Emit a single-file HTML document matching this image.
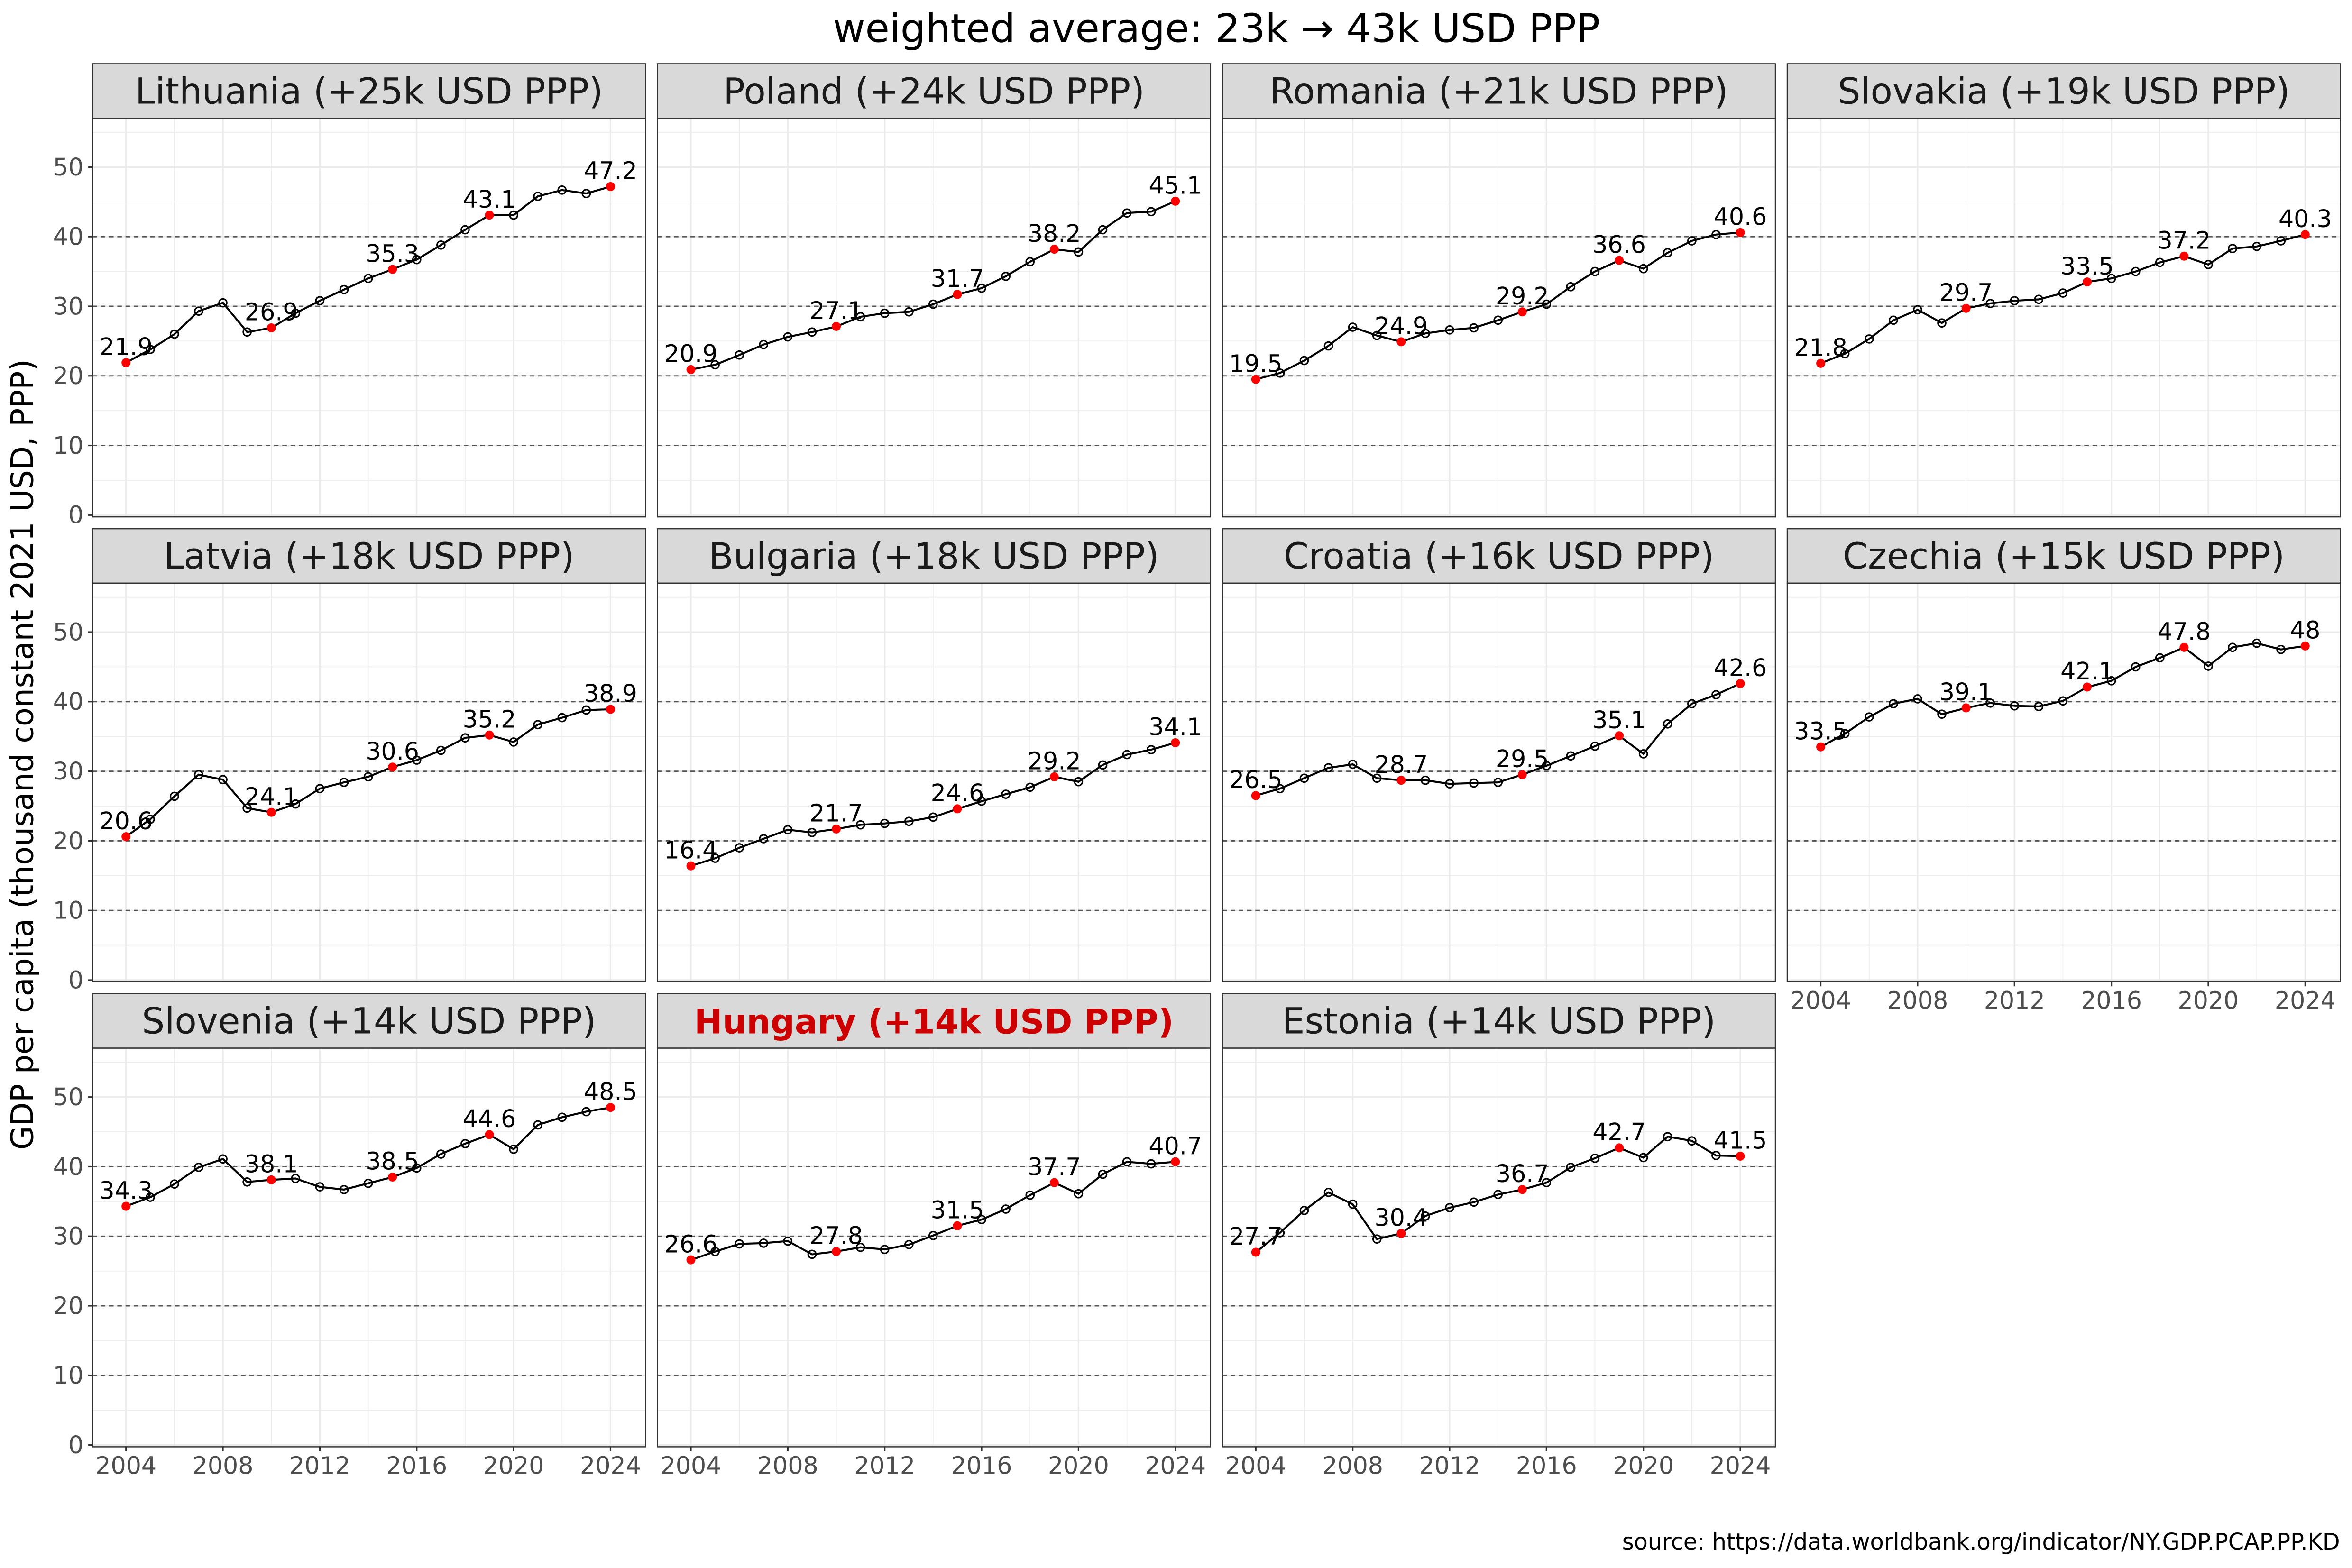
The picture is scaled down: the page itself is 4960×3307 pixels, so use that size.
<!DOCTYPE html>
<html><head><meta charset="utf-8"><style>
html,body{margin:0;padding:0;background:#fff;}
svg{display:block;}
text{font-family:"DejaVu Sans","Liberation Sans",sans-serif;}
</style></head><body>
<svg id="s" width="4960" height="3307" viewBox="0 0 1568 1045.4" preserveAspectRatio="none" xmlns="http://www.w3.org/2000/svg"></svg>
<script>
const D=[
["Lithuania (+25k USD PPP)",[21.9,23.8,26,29.3,30.5,26.3,26.9,29,30.8,32.4,34,35.3,36.7,38.8,41,43.1,43.1,45.8,46.7,46.2,47.2]],
["Poland (+24k USD PPP)",[20.9,21.6,23,24.5,25.6,26.3,27.1,28.5,29,29.2,30.3,31.7,32.6,34.3,36.4,38.2,37.8,41,43.4,43.6,45.1]],
["Romania (+21k USD PPP)",[19.5,20.4,22.2,24.3,27,25.8,24.9,26.1,26.6,26.9,28,29.2,30.3,32.8,35,36.6,35.4,37.7,39.4,40.3,40.6]],
["Slovakia (+19k USD PPP)",[21.8,23.2,25.3,28,29.5,27.6,29.7,30.4,30.8,31,31.9,33.5,34,35,36.3,37.2,36,38.3,38.6,39.4,40.3]],
["Latvia (+18k USD PPP)",[20.6,23.1,26.4,29.5,28.8,24.7,24.1,25.3,27.5,28.4,29.2,30.6,31.6,33,34.8,35.2,34.2,36.7,37.7,38.8,38.9]],
["Bulgaria (+18k USD PPP)",[16.4,17.5,19,20.3,21.6,21.2,21.7,22.3,22.5,22.8,23.4,24.6,25.7,26.7,27.7,29.2,28.5,30.9,32.4,33.1,34.1]],
["Croatia (+16k USD PPP)",[26.5,27.5,29,30.5,31,29,28.7,28.7,28.2,28.3,28.4,29.5,30.8,32.2,33.6,35.1,32.5,36.8,39.7,41,42.6]],
["Czechia (+15k USD PPP)",[33.5,35.4,37.8,39.7,40.4,38.2,39.1,39.8,39.4,39.3,40.1,42.1,43,45,46.3,47.8,45.1,47.8,48.4,47.5,48]],
["Slovenia (+14k USD PPP)",[34.3,35.6,37.5,39.9,41.1,37.8,38.1,38.3,37.1,36.7,37.6,38.5,39.8,41.8,43.3,44.6,42.5,46,47.1,47.9,48.5]],
["Hungary (+14k USD PPP)",[26.6,27.8,28.9,29,29.3,27.4,27.8,28.4,28.1,28.8,30.1,31.5,32.4,33.9,35.9,37.7,36.1,38.9,40.7,40.4,40.7]],
["Estonia (+14k USD PPP)",[27.7,30.5,33.7,36.3,34.6,29.6,30.4,32.9,34.1,34.9,36,36.7,37.7,39.9,41.2,42.7,41.3,44.3,43.7,41.6,41.5]]];
const colX=[61.7,438.3,814.9,1191.5], W=368.7;
const rowTop=[42.5,352.5,662.5];
let h='';
h+=`<text x="811" y="28" text-anchor="middle" font-size="26.3" fill="#000">weighted average: 23k → 43k USD PPP</text>`;
h+=`<text transform="translate(22,503) rotate(-90)" text-anchor="middle" font-size="20.5" fill="#000">GDP per capita (thousand constant 2021 USD, PPP)</text>`;
h+=`<text x="1560" y="1033" text-anchor="end" font-size="15.1" fill="#000">source: https://data.worldbank.org/indicator/NY.GDP.PCAP.PP.KD</text>`;
const lbl=[0,6,11,15,20];
D.forEach((d,i)=>{
 const r=Math.floor(i/4),c=i%4;
 const L=colX[c],T=rowTop[r],PT=T+36.3,PB=PT+265.8;
 const y0=PB-1.2, ys=4.64;
 const Y=v=>y0-v*ys, X=yr=>L+22.3+(yr-2004)*16.15;
 h+=`<rect x="${L}" y="${T}" width="${W}" height="36.3" fill="#d9d9d9" stroke="#333" stroke-width="0.8"/>`;
 const hu=d[0].startsWith("Hungary");
 h+=`<text x="${L+W/2}" y="${T+26.5}" text-anchor="middle" font-size="${hu?22.5:24}" ${hu?'fill="#cc0000" font-weight="bold"':'fill="#1a1a1a"'}>${d[0]}</text>`;
 h+=`<rect x="${L}" y="${PT}" width="${W}" height="${PB-PT}" fill="#fff"/>`;
 for(let yr=2004;yr<=2024;yr+=2){h+=`<line x1="${X(yr)}" x2="${X(yr)}" y1="${PT}" y2="${PB}" stroke="#ebebeb" stroke-width="${yr%4==0?1:0.5}"/>`;}
 for(let v=0;v<=55;v+=5){h+=`<line x1="${L}" x2="${L+W}" y1="${Y(v)}" y2="${Y(v)}" stroke="#ebebeb" stroke-width="${v%10==0?1:0.5}"/>`;}
 for(let v=10;v<=40;v+=10){h+=`<line x1="${L}" x2="${L+W}" y1="${Y(v)}" y2="${Y(v)}" stroke="#555" stroke-width="0.9" stroke-dasharray="3,2.5"/>`;}
 h+=`<rect x="${L}" y="${PT}" width="${W}" height="${PB-PT}" fill="none" stroke="#333" stroke-width="0.8"/>`;
 const pts=d[1].map((v,k)=>X(2004+k).toFixed(1)+','+Y(v).toFixed(1)).join(' ');
 h+=`<polyline points="${pts}" fill="none" stroke="#000" stroke-width="1.3"/>`;
 d[1].forEach((v,k)=>{ if(!lbl.includes(k)) h+=`<circle cx="${X(2004+k)}" cy="${Y(v)}" r="2.6" fill="none" stroke="#000" stroke-width="1"/>`;});
 lbl.forEach(k=>{const v=d[1][k];h+=`<circle cx="${X(2004+k)}" cy="${Y(v)}" r="3" fill="#ff0000"/>`;
  h+=`<text x="${X(2004+k)}" y="${Y(v)-5}" text-anchor="middle" font-size="16" fill="#000">${v}</text>`;});
 if(c==0){for(let v=0;v<=50;v+=10){h+=`<line x1="${L-3}" x2="${L}" y1="${Y(v)}" y2="${Y(v)}" stroke="#333"/><text x="${L-6}" y="${Y(v)+5.5}" text-anchor="end" font-size="16" fill="#4d4d4d">${v}</text>`;}}
 if(r==2||i==7){for(let yr=2004;yr<=2024;yr+=4){h+=`<line x1="${X(yr)}" x2="${X(yr)}" y1="${PB}" y2="${PB+3}" stroke="#333"/><text x="${X(yr)}" y="${PB+18}" text-anchor="middle" font-size="16" fill="#4d4d4d">${yr}</text>`;}}
});
document.getElementById('s').innerHTML=h;
</script>
</body></html>
